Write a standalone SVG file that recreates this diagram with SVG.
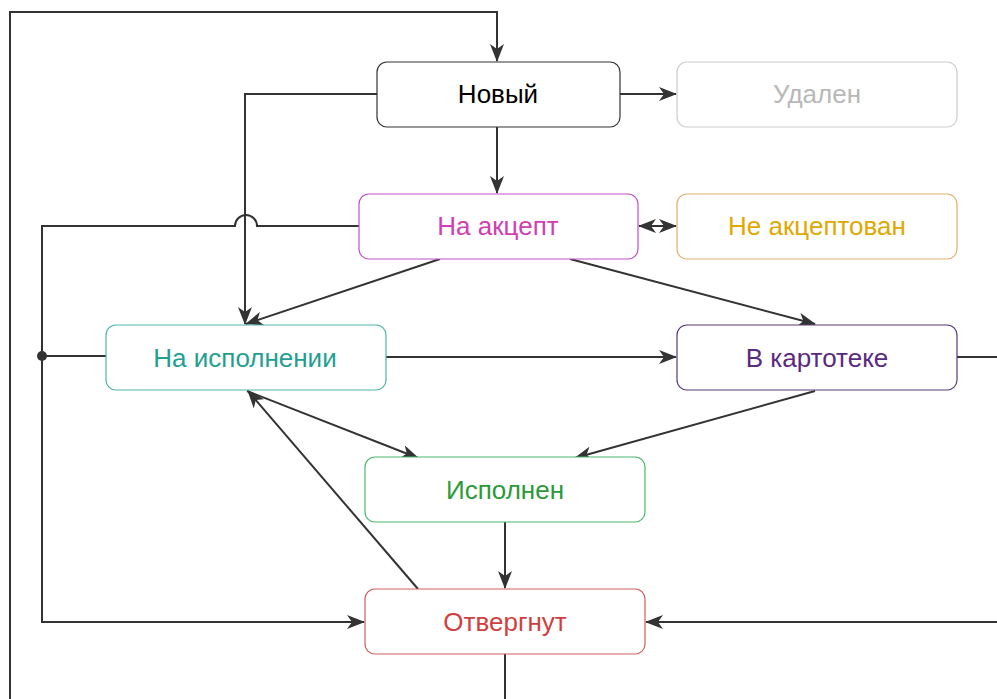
<svg xmlns="http://www.w3.org/2000/svg" width="997" height="699" viewBox="0 0 997 699">
<style>
.n{fill:#fff;stroke-width:1.2}
.t{font-family:"Liberation Sans",Arial,sans-serif;font-size:26px;text-anchor:middle}
.c{fill:none;stroke:#333;stroke-width:2}
</style>
<defs>
<marker id="a" markerUnits="userSpaceOnUse" markerWidth="18" markerHeight="14" refX="17" refY="7" orient="auto">
<path d="M0,0 L18,7 L0,14 L5,7 z" fill="#333"/>
</marker>
<marker id="s" markerUnits="userSpaceOnUse" markerWidth="18" markerHeight="14" refX="1" refY="7" orient="auto">
<path d="M18,0 L0,7 L18,14 L13,7 z" fill="#333"/>
</marker>
</defs>
<g id="connectors">
<path class="c" d="M10,699 V12 H497 V61" marker-end="url(#a)"/>
<path class="c" d="M620,94 H676" marker-end="url(#a)"/>
<path class="c" d="M497,127 V193" marker-end="url(#a)"/>
<path class="c" d="M377,94 H245 V324" marker-end="url(#a)"/>
<path class="c" d="M359,226 H257 A11,11 0 0 0 235,226 H42 V622 H364" marker-end="url(#a)"/>
<path class="c" d="M106,356 H42"/>
<circle cx="42" cy="356" r="5" fill="#333"/>
<path class="c" d="M639,226 H676" marker-start="url(#s)" marker-end="url(#a)"/>
<path class="c" d="M440,259 L246,324" marker-end="url(#a)"/>
<path class="c" d="M570,259 L815,324" marker-end="url(#a)"/>
<path class="c" d="M386,357 H676" marker-end="url(#a)"/>
<path class="c" d="M957,357 H997"/>
<path class="c" d="M997,622 H646" marker-end="url(#a)"/>
<path class="c" d="M815,391 L575,458" marker-end="url(#a)"/>
<path class="c" d="M247,391 L418,458" marker-end="url(#a)"/>
<path class="c" d="M418,589 L248,391" marker-end="url(#a)"/>
<path class="c" d="M505,522 V588" marker-end="url(#a)"/>
<path class="c" d="M505,654 V699"/>
</g>
<g id="node-novyi">
<rect class="n" x="377" y="62" width="243" height="65" rx="10" stroke="#333"/>
<text class="t" x="498" y="103" fill="#000">Новый</text>
</g>
<g id="node-udalen">
<rect class="n" x="677" y="62" width="280" height="65" rx="10" stroke="#ccc"/>
<text class="t" x="817" y="103" fill="#b8b8b8">Удален</text>
</g>
<g id="node-na-akcept">
<rect class="n" x="359" y="194" width="279" height="65" rx="10" stroke="#c050c8"/>
<text class="t" x="498" y="235" fill="#d040b0">На акцепт</text>
</g>
<g id="node-ne-akceptovan">
<rect class="n" x="677" y="194" width="280" height="65" rx="10" stroke="#e0b070"/>
<text class="t" x="817" y="235" fill="#e0a800">Не акцептован</text>
</g>
<g id="node-na-ispolnenii">
<rect class="n" x="106" y="325" width="280" height="65" rx="10" stroke="#4db6ac"/>
<text class="t" x="245" y="367" fill="#1fa090">На исполнении</text>
</g>
<g id="node-v-kartoteke">
<rect class="n" x="677" y="325" width="280" height="65" rx="10" stroke="#5a3a7a"/>
<text class="t" x="817" y="367" fill="#5a2a80">В картотеке</text>
</g>
<g id="node-ispolnen">
<rect class="n" x="365" y="457" width="280" height="65" rx="10" stroke="#4cb86c"/>
<text class="t" x="505" y="499" fill="#2a9a3a">Исполнен</text>
</g>
<g id="node-otvergnut">
<rect class="n" x="365" y="589" width="280" height="65" rx="10" stroke="#d06060"/>
<text class="t" x="505" y="631" fill="#d04040">Отвергнут</text>
</g>
</svg>
